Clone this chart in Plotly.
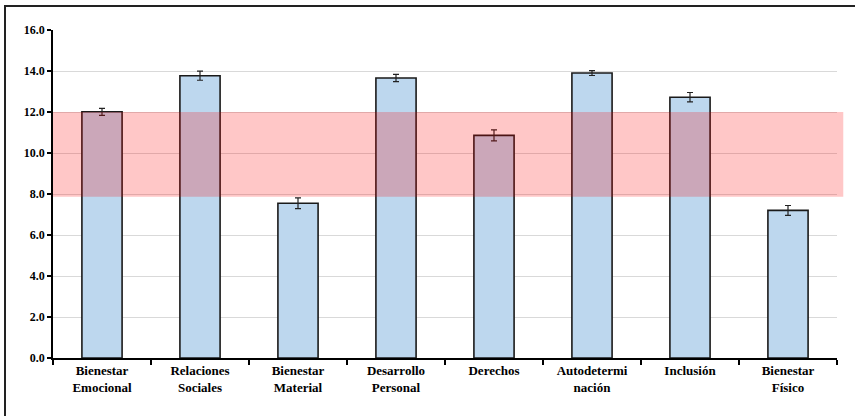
import plotly.graph_objects as go

# Dimensiones de calidad de vida: medias y error estándar
categorias = ["Bienestar<br>Emocional", "Relaciones<br>Sociales", "Bienestar<br>Material",
              "Desarrollo<br>Personal", "Derechos", "Autodetermi<br>nación",
              "Inclusión", "Bienestar<br>Físico"]
medias = [12.01, 13.77, 7.55, 13.66, 10.86, 13.90, 12.72, 7.20]
errores = [0.17, 0.22, 0.26, 0.18, 0.27, 0.12, 0.23, 0.24]

# Franja de referencia (rango normativo)
franja_min = 7.87
franja_max = 12.0

y_ticks = [0, 2, 4, 6, 8, 10, 12, 14, 16]
y_labels = [f"{v:.1f}" for v in y_ticks]

fuente = dict(family="Liberation Serif", size=12, color="#000000", weight="bold")
fuente_x = dict(family="Liberation Serif", size=13, color="#000000", weight="bold")

fig = go.Figure()
fig.add_trace(go.Bar(
    x=categorias,
    y=medias,
    width=0.41,
    marker=dict(color="#BDD7EE", line=dict(color="#1a1a1a", width=1.6)),
    error_y=dict(type="data", array=errores, visible=True,
                 color="#222222", thickness=1.2, width=3),
))

fig.add_shape(type="rect", xref="paper", yref="y",
              x0=0, x1=1.008, y0=franja_min, y1=franja_max,
              fillcolor="rgba(255,0,0,0.22)", line=dict(width=0), layer="above")

# Marco exterior
fig.add_shape(type="rect", xref="paper", yref="paper",
              x0=(5 - 53) / 784, x1=1.2, y0=-0.3, y1=(358 - 6) / 328,
              line=dict(color="#222222", width=2), fillcolor="rgba(0,0,0,0)")

fig.update_layout(
    width=855, height=416,
    margin=dict(l=53, r=18, t=30, b=58),
    paper_bgcolor="white", plot_bgcolor="white",
    showlegend=False,
    bargap=0.59,
    font=fuente,
)
fig.update_xaxes(
    showline=True, linecolor="#000000", linewidth=1.5,
    ticks="outside", tickson="boundaries", ticklen=5, tickcolor="#000000",
    tickwidth=1.5, tickfont=fuente_x, showgrid=False,
)
fig.update_yaxes(
    range=[0, 16], tickvals=y_ticks, ticktext=y_labels,
    showline=True, linecolor="#000000", linewidth=1.5,
    ticks="outside", ticklen=4, tickcolor="#000000", tickwidth=1.5,
    tickfont=fuente, showgrid=True, gridcolor="#D9D9D9", gridwidth=1,
    zeroline=False,
)

fig.write_html("out.html")
